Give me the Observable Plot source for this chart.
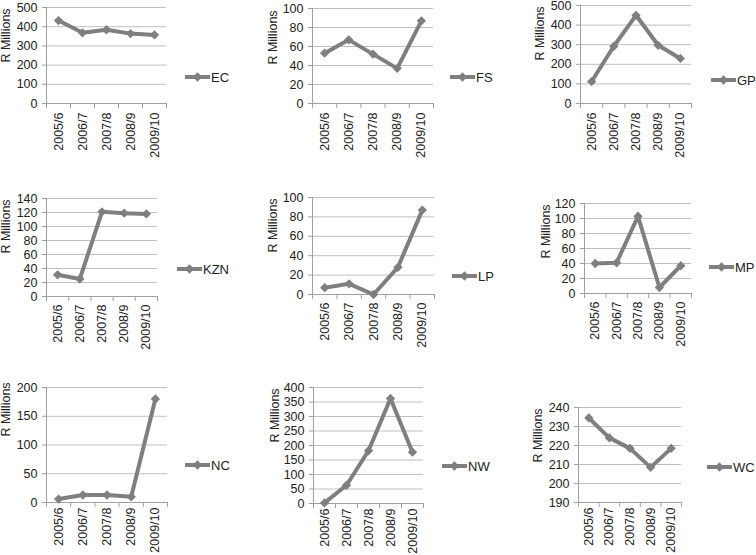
<!DOCTYPE html>
<html><head><meta charset="utf-8">
<script src="https://cdn.jsdelivr.net/npm/d3@7"></script>
<script src="https://cdn.jsdelivr.net/npm/@observablehq/plot@0.6"></script>
<style>
body{margin:0;background:#fff;}
#chart{position:relative;width:756px;height:555px;overflow:hidden;font-family:"Liberation Sans",Arial,sans-serif;}
#chart > svg{position:absolute;}
</style></head><body><div id="chart"></div>
<script>
// ---- data ----
const years = ["2005/6","2006/7","2007/8","2008/9","2009/10"];
const provinces = ["EC","FS","GP","KZN","LP","MP","NC","NW","WC"];
const EC  = [432, 368, 384, 364, 357];
const FS  = [53, 67, 52, 37, 87];
const GP  = [112, 292, 450, 297, 230];
const KZN = [31, 25, 121, 119, 118];
const LP  = [7, 11, 0, 28, 87];
const MP  = [40, 41, 103, 8, 37];
const NC  = [6, 13, 13, 10, 180];
const NW  = [2, 63, 182, 362, 177];
const WC  = [234.5, 224, 218.5, 208.5, 218.5];
const yDomains = [[0,500],[0,100],[0,500],[0,140],[0,100],[0,120],[0,200],[0,400],[190,240]];
const yTickSteps = [100, 20, 100, 20, 20, 20, 50, 50, 10];
const yLabel = "R Millions";

const series = {EC, FS, GP, KZN, LP, MP, NC, NW, WC};

// ---- layout (pixel positions of each panel) ----
const rows = [[0,180,9],[180,185,8],[365,190,5]];
const layout = [
 {L:46,  R:166, T:7,   B:103, labX:5.5, labY:35,  legX:185, legY:77},
 {L:312, R:433, T:8,   B:103, labX:272, labY:37,  legX:450, legY:77},
 {L:580, R:691, T:5,   B:103, labX:539, labY:33,  legX:711, legY:80},
 {L:46,  R:157, T:198, B:296, labX:5.5, labY:226, legX:177, legY:269},
 {L:312, R:434, T:197, B:294, labX:272, labY:225, legX:452, legY:276},
 {L:584, R:691, T:203, B:293, labX:545, labY:231, legX:709, legY:267},
 {L:46,  R:167, T:387, B:502, labX:5.5, labY:409, legX:185, legY:465},
 {L:313, R:423, T:387, B:503, labX:274, labY:415, legX:442, legY:466},
 {L:578, R:681, T:407, B:502, labX:537, labY:435, legX:707, legY:467}
];

const LINE = "#7f7f7f", GRID = "#bfbfbf", AXIS = "#a0a0a0", TEXT = "#222";
const FONT = "12.5px";
const root = document.getElementById("chart");

provinces.forEach((p, k) => {
  const g = layout[k];
  const cx = (k % 3) * 252, cw = 252;
  const [cy, ch, pad] = rows[Math.floor(k / 3)];
  const data = years.map((yr, i) => ({i: i + 0.5, year: yr, value: series[p][i]}));
  const [y0, y1] = yDomains[k];
  const step = yTickSteps[k];
  const yt = d3.range(y0, y1 + step / 2, step);
  const midY = (g.T + g.B) / 2;
  const chart = Plot.plot({
    width: cw, height: ch,
    marginLeft: g.L - cx, marginRight: cx + cw - g.R,
    marginTop: g.T - cy, marginBottom: cy + ch - g.B,
    style: {fontFamily: '"Liberation Sans", Arial, sans-serif', fontSize: FONT, color: TEXT, background: "transparent"},
    x: {type: "linear", domain: [0, years.length]},
    y: {domain: [y0, y1]},
    marks: [
      Plot.gridY(yt, {stroke: GRID, strokeOpacity: 1}),
      Plot.axisY(yt, {tickSize: 4, tickPadding: 5, stroke: AXIS, label: null, fill: TEXT}),
      Plot.ruleX([0], {stroke: AXIS}),
      Plot.ruleY([y0], {stroke: AXIS}),
      Plot.axisX(d3.range(0, years.length + 1), {tickSize: 5, tickFormat: () => "", stroke: AXIS, label: null}),
      Plot.axisX(data.map(d => d.i), {tickSize: 0, tickPadding: pad, tickRotate: -90,
        tickFormat: v => years[Math.floor(v)], label: null, fill: TEXT}),
      Plot.text([yLabel], {frameAnchor: "left", textAnchor: "middle", lineAnchor: "middle", rotate: -90,
        dx: g.labX - g.L, dy: g.labY - midY, fill: TEXT, fontSize: 12.5}),
      Plot.line(data, {x: "i", y: "value", stroke: LINE, strokeWidth: 4}),
      Plot.dot(data, {x: "i", y: "value", symbol: "diamond2", r: 4.2, fill: LINE, stroke: "none"})
    ]
  });
  chart.style.left = cx + "px";
  chart.style.top = cy + "px";
  root.appendChild(chart);

  // legend
  const leg = d3.create("svg").attr("width", 60).attr("height", 20)
    .style("left", g.legX + "px").style("top", (g.legY - 10) + "px").style("overflow", "visible");
  leg.append("line").attr("x1", 0).attr("x2", 25).attr("y1", 10).attr("y2", 10)
    .attr("stroke", LINE).attr("stroke-width", 4);
  leg.append("path").attr("d", d3.symbol(d3.symbolDiamond2, 55)()).attr("transform", "translate(12.5,10)")
    .attr("fill", LINE);
  leg.append("text").attr("x", 26).attr("y", 10).attr("dy", "0.35em").attr("fill", TEXT)
    .style("font-family", '"Liberation Sans", Arial, sans-serif').style("font-size", "13px").text(p);
  root.appendChild(leg.node());
});
</script>
</body></html>
